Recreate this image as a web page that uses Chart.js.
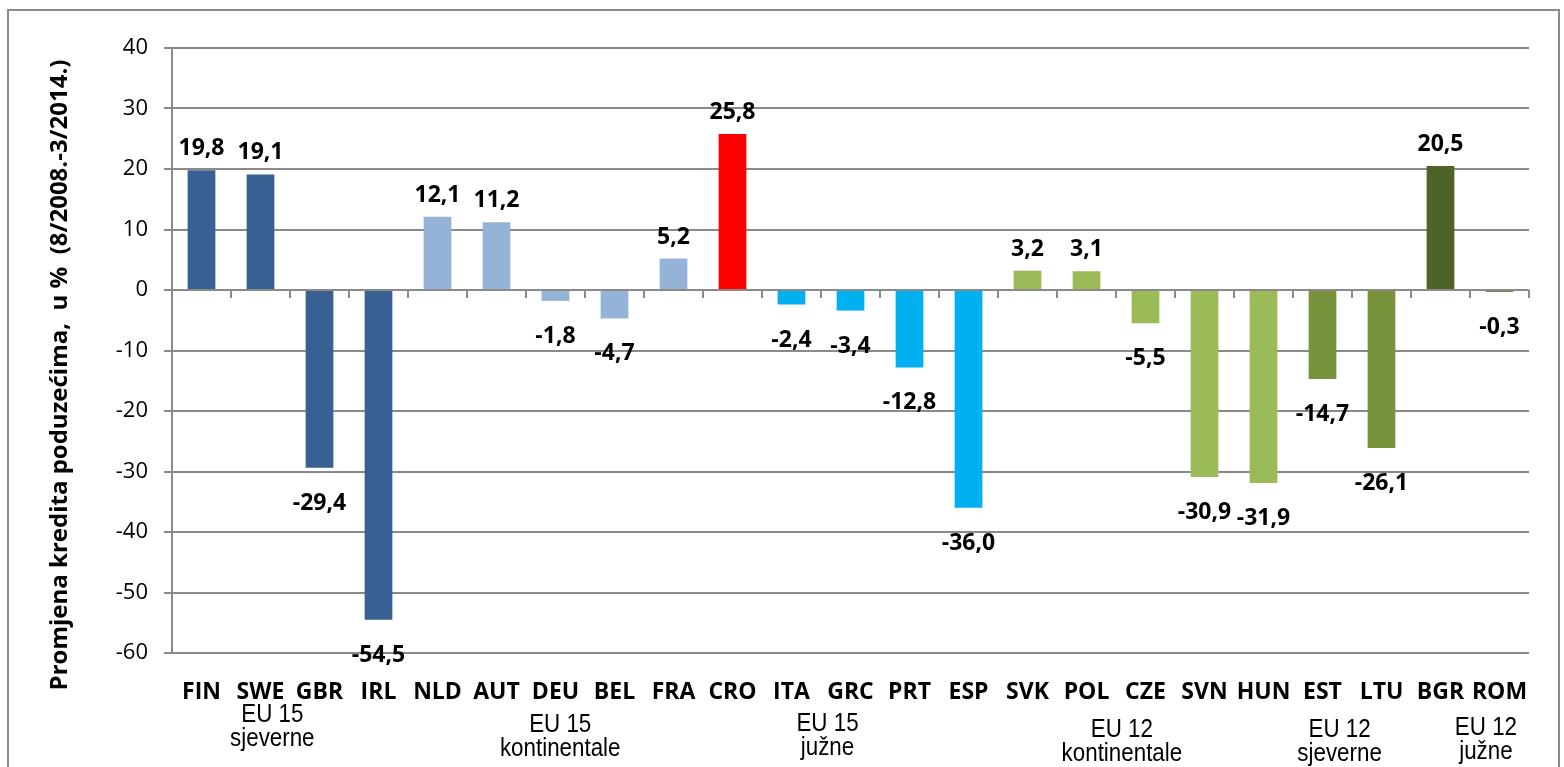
<!DOCTYPE html>
<html>
<head>
<meta charset="utf-8">
<title>Promjena kredita poduzećima</title>
<script src="https://cdn.jsdelivr.net/npm/chart.js@4.4.1/dist/chart.umd.min.js"></script>
<style>
    body { margin: 0; background: #fff; overflow: hidden; }
    #wrap { position: relative; width: 1564px; height: 767px; }
    #frame {
        position: absolute; left: 7px; top: 9px; width: 1553px; height: 800px;
        border: 2px solid #8c8c8c; box-sizing: border-box;
    }
    #chart { position: absolute; left: 0; top: 0; }
</style>
</head>
<body>
<div id="wrap">
    <div id="frame"></div>
    <canvas id="chart" width="1564" height="767"></canvas>
</div>
<script>
const categories = ['FIN', 'SWE', 'GBR', 'IRL', 'NLD', 'AUT', 'DEU', 'BEL', 'FRA', 'CRO', 'ITA', 'GRC',
    'PRT', 'ESP', 'SVK', 'POL', 'CZE', 'SVN', 'HUN', 'EST', 'LTU', 'BGR', 'ROM'];
const values = [19.8, 19.1, -29.4, -54.5, 12.1, 11.2, -1.8, -4.7, 5.2, 25.8, -2.4, -3.4,
    -12.8, -36.0, 3.2, 3.1, -5.5, -30.9, -31.9, -14.7, -26.1, 20.5, -0.3];
const yTicks = [-60, -50, -40, -30, -20, -10, 0, 10, 20, 30, 40];
const axisTitle = 'Promjena kredita poduzećima,  u %  (8/2008.-3/2014.)';

// country groups shown under the axis
const groupLabels = [
    ['EU 15', 'sjeverne'],
    ['EU 15', 'kontinentale'],
    ['EU 15', 'južne'],
    ['EU 12', 'kontinentale'],
    ['EU 12', 'sjeverne'],
    ['EU 12', 'južne']
];

// styling / layout
const barColors = ['#386093', '#386093', '#386093', '#386093',
    '#95b3d7', '#95b3d7', '#95b3d7', '#95b3d7', '#95b3d7',
    '#ff0000',
    '#00b0f0', '#00b0f0', '#00b0f0', '#00b0f0',
    '#9bbb59', '#9bbb59', '#9bbb59', '#9bbb59', '#9bbb59',
    '#77933c', '#77933c',
    '#4f6228', '#4f6228'];
const groupCenters = [1.2, 6.08, 10.61, 15.6, 19.29, 21.77]; // in category units
const groupTops = [703, 713, 712, 718, 718, 716];
const gridColor = '#8a8a8a';

const extras = {
    id: 'extras',
    afterDatasetsDraw(chart) {
        const ctx = chart.ctx;
        const x = chart.scales.x;
        const y = chart.scales.y;
        const zero = y.getPixelForValue(0);

        // tick marks on the zero line between categories
        ctx.save();
        ctx.strokeStyle = gridColor;
        ctx.lineWidth = 2;
        const step = x.width / categories.length;
        for (let i = 0; i <= categories.length; i++) {
            const px = Math.round(x.left + i * step);
            ctx.beginPath();
            ctx.moveTo(px, zero);
            ctx.lineTo(px, zero + 8);
            ctx.stroke();
        }
        ctx.restore();

        // value labels
        ctx.save();
        ctx.font = 'bold 23px "Open Sans"';
        ctx.fillStyle = '#000';
        ctx.textAlign = 'center';
        ctx.textBaseline = 'alphabetic';
        values.forEach((v, i) => {
            const px = x.getPixelForValue(i);
            const py = y.getPixelForValue(v);
            const txt = v.toFixed(1).replace('.', ',');
            ctx.fillText(txt, px, v >= 0 ? py - 15 : py + 42);
        });
        ctx.restore();

        // group labels
        ctx.save();
        ctx.font = '26px "Liberation Sans"';
        ctx.fillStyle = '#000';
        ctx.textAlign = 'center';
        ctx.textBaseline = 'alphabetic';
        groupLabels.forEach((lines, g) => {
            const px = x.left + (groupCenters[g] + 0.5) * step;
            lines.forEach((line, k) => {
                ctx.save();
                ctx.translate(px, groupTops[g] + 19 + k * 24);
                ctx.scale(0.86, 1);
                ctx.fillText(line, 0, 0);
                ctx.restore();
            });
        });
        ctx.restore();

        // y axis title
        ctx.save();
        ctx.translate(60, 375);
        ctx.rotate(-Math.PI / 2);
        ctx.font = 'bold 24px "Open Sans"';
        ctx.fillStyle = '#000';
        ctx.textAlign = 'center';
        ctx.textBaseline = 'middle';
        ctx.fillText(axisTitle, 0, 0);
        ctx.restore();
    }
};

const ctx = document.getElementById('chart').getContext('2d');
new Chart(ctx, {
    type: 'bar',
    data: {
        labels: categories,
        datasets: [{
            data: values,
            backgroundColor: barColors,
            borderWidth: 0,
            barPercentage: 0.47,
            categoryPercentage: 1
        }]
    },
    options: {
        responsive: false,
        animation: false,
        layout: { padding: { top: 48, right: 35, bottom: 0, left: 0 } },
        plugins: {
            legend: { display: false },
            tooltip: { enabled: false }
        },
        scales: {
            x: {
                grid: { display: false, drawTicks: false },
                border: { display: false },
                ticks: {
                    padding: 26,
                    color: '#000',
                    font: { family: 'Open Sans', size: 23, weight: 'bold' },
                    maxRotation: 0,
                    autoSkip: false
                },
                afterFit(scale) { scale.height = 767 - 653; }
            },
            y: {
                min: -60,
                max: 40,
                afterBuildTicks(scale) { scale.ticks = yTicks.map(v => ({ value: v })); },
                grid: { color: gridColor, lineWidth: 2, tickLength: 8 },
                border: { color: gridColor, width: 2 },
                ticks: {
                    padding: 16,
                    color: '#000',
                    font: { family: 'Open Sans', size: 22 }
                },
                afterFit(scale) { scale.width = 172; }
            }
        }
    },
    plugins: [extras]
});
</script>
</body>
</html>
